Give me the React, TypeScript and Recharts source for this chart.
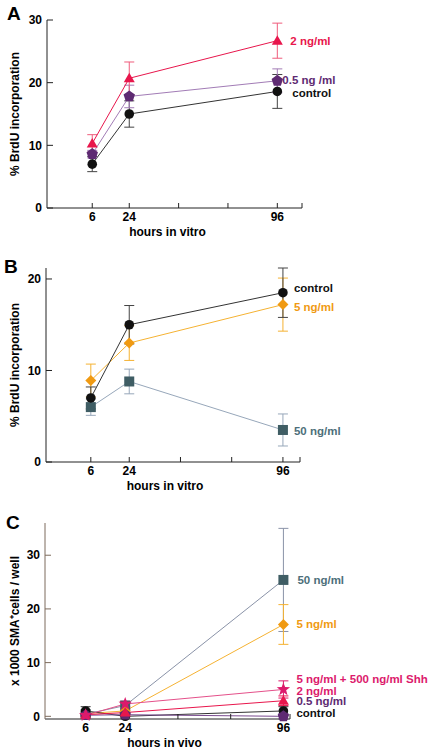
import React from 'react';
import { LineChart, Line, XAxis, YAxis, ErrorBar, LabelList, Label } from 'recharts';

const FONT = '"Liberation Sans", Arial, Helvetica, sans-serif';

// shared x ticks (hours); only some carry a label
const hourTicks = [6, 24, 48, 72, 96];
const hourTickLabels = [6, 24, 96];

// A: BrdU incorporation, hours in vitro
const hoursA = [6, 24, 96];
const controlA = [7.0, 15.0, 18.6];
const controlAErr = [1.2, 2.1, 2.7];
const halfNgA = [8.6, 17.8, 20.3];
const halfNgAErr = [0.6, 1.8, 1.9];
const twoNgA = [10.3, 20.7, 26.7];
const twoNgAErr = [1.4, 2.6, 2.8];

// B: BrdU incorporation, hours in vitro
const hoursB = [6, 24, 96];
const controlB = [7.0, 15.0, 18.5];
const controlBErr = [1.2, 2.1, 2.7];
const fiveNgB = [8.9, 13.0, 17.2];
const fiveNgBErr = [1.8, 1.9, 2.9];
const fiftyNgB = [6.0, 8.8, 3.5];
const fiftyNgBErr = [0.9, 1.35, 1.75];

// C: SMA+ cells per well, hours in vivo
const hoursC = [6, 24, 96];
const controlC = [1.0, 0.0, 1.0];
const controlCErr = [0.8, 0.3, 0.8];
const halfNgC = [0.2, 0.3, 0.0];
const halfNgCErr = [0.3, 0.3, 0.5];
const twoNgC = [0.3, 0.7, 2.9];
const twoNgCErr = [0.3, 0.4, 0.9];
const shhC = [0.2, 2.3, 5.0];
const shhCErr = [0.3, 0.5, 1.6];
const fiveNgC = [0.5, 1.0, 17.1];
const fiveNgCErr = [0.4, 0.5, 3.7];
const fiftyNgC = [0.4, 2.0, 25.4];
const fiftyNgCErr = [0.4, 0.6, 9.6];

const dataA = hoursA.map((h, i) => ({
    hours: h,
    control: controlA[i], controlErr: controlAErr[i],
    half: halfNgA[i], halfErr: halfNgAErr[i],
    two: twoNgA[i], twoErr: twoNgAErr[i],
}));

const dataB = hoursB.map((h, i) => ({
    hours: h,
    control: controlB[i], controlErr: controlBErr[i],
    five: fiveNgB[i], fiveErr: fiveNgBErr[i],
    fifty: fiftyNgB[i], fiftyErr: fiftyNgBErr[i],
}));

const dataC = hoursC.map((h, i) => ({
    hours: h,
    control: controlC[i], controlErr: controlCErr[i],
    half: halfNgC[i], halfErr: halfNgCErr[i],
    two: twoNgC[i], twoErr: twoNgCErr[i],
    shh: shhC[i], shhErr: shhCErr[i],
    five: fiveNgC[i], fiveErr: fiveNgCErr[i],
    fifty: fiftyNgC[i], fiftyErr: fiftyNgCErr[i],
}));

const RED = '#e8164c';
const PURPLE = '#5e2a72';
const PURPLE_LINE = '#a27cb6';
const BLACK = '#111111';
const ORANGE = '#f09a12';
const ORANGE_LINE = '#f5b232';
const SLATE = '#3f5d64';
const SLATE_LINE = '#97a7ba';
const MAGENTA = '#dc1a6c';

type Shape = 'circle' | 'triangle' | 'pentagon' | 'diamond' | 'square' | 'star';

const starPoints = (cx: number, cy: number, n: number, outer: number, inner: number) => {
    const pts: string[] = [];
    const step = Math.PI / n;
    for (let k = 0; k < 2 * n; k++) {
        const r = k % 2 === 1 ? inner : outer;
        const a = -Math.PI / 2 + k * step;
        pts.push(`${cx + r * Math.cos(a)},${cy + r * Math.sin(a)}`);
    }
    return pts.join(' ');
};

const regularPoints = (cx: number, cy: number, n: number, r: number) => {
    const pts: string[] = [];
    for (let k = 0; k < n; k++) {
        const a = -Math.PI / 2 + (k * 2 * Math.PI) / n;
        pts.push(`${cx + r * Math.cos(a)},${cy + r * Math.sin(a)}`);
    }
    return pts.join(' ');
};

const Marker = ({ cx, cy, shape, fill }: { cx?: number; cy?: number; shape: Shape; fill: string }) => {
    if (cx == null || cy == null) return null;
    switch (shape) {
        case 'circle':
            return <circle cx={cx} cy={cy} r={4.8} fill={fill} />;
        case 'triangle':
            return <polygon points={`${cx},${cy - 5.5} ${cx + 5.5},${cy + 4} ${cx - 5.5},${cy + 4}`} fill={fill} />;
        case 'pentagon':
            return <polygon points={regularPoints(cx, cy, 5, 6)} fill={fill} />;
        case 'diamond':
            return <polygon points={regularPoints(cx, cy, 4, 5.5)} fill={fill} />;
        case 'square':
            return <rect x={cx - 5} y={cy - 5} width={10} height={10} fill={fill} />;
        case 'star':
            return <polygon points={starPoints(cx, cy, 5, 7, 2.9)} fill={fill} />;
        default:
            return null;
    }
};

// one dose series: line, markers, error bars and the name at the 96 h point
const renderSeries = (
    key: string,
    name: string,
    shape: Shape,
    marker: string,
    line: string,
    err: string,
    labelDx: number,
    labelDy: number,
    labelColor: string = marker,
) => (
    <Line
        key={key}
        type="linear"
        dataKey={key}
        stroke={line}
        strokeWidth={1}
        isAnimationActive={false}
        activeDot={false}
        dot={(p: any) => <Marker key={`${key}-${p.index}`} cx={p.cx} cy={p.cy} shape={shape} fill={marker} />}
    >
        <ErrorBar dataKey={`${key}Err`} width={5} stroke={err} strokeWidth={1} direction="y" />
        <LabelList
            dataKey={key}
            content={(p: any) =>
                p.index === 2 ? (
                    <text
                        x={Number(p.x) + labelDx}
                        y={Number(p.y) + labelDy}
                        dominantBaseline="central"
                        fill={labelColor}
                        fontSize={11.5}
                        fontWeight="bold"
                        fontFamily={FONT}
                    >
                        {name}
                    </text>
                ) : null
            }
        />
    </Line>
);

const tickStyle = { fill: '#000', fontSize: 12, fontWeight: 'bold', fontFamily: FONT };
const titleStyle = { fill: '#000', fontSize: 12, fontWeight: 'bold', fontFamily: FONT };
const hourLabel = (v: number) => (hourTickLabels.includes(v) ? String(v) : '');

const letterStyle: React.CSSProperties = {
    position: 'absolute',
    fontFamily: FONT,
    fontWeight: 700,
    fontSize: 19,
    lineHeight: '19px',
    color: '#000',
};

const xAxisProps = (max: number) => ({
    dataKey: 'hours',
    type: 'number' as const,
    ticks: [...hourTicks, max],
    tickFormatter: hourLabel,
    interval: 0 as const,
    height: 32,
    tickSize: -5,
    tickMargin: 9,
    axisLine: { stroke: '#222' },
    tickLine: { stroke: '#222' },
    tick: tickStyle,
});

const App: React.FC = () => {
    return (
        <div style={{ position: 'relative', width: 432, height: 751, background: '#fff', overflow: 'hidden' }}>
            <style>{'body{margin:0}'}</style>

            <div style={{ position: 'absolute', left: 0, top: 0 }}>
                <LineChart width={432} height={240} data={dataA} margin={{ top: 20, right: 130, left: 0, bottom: 0 }}>
                    <XAxis {...xAxisProps(108)} domain={[-16, 108]}>
                        <Label value="hours in vitro" position="insideBottom" offset={4} style={{ ...titleStyle, transform: 'translateX(-7px)' }} />
                    </XAxis>
                    <YAxis
                        type="number"
                        domain={[0, 30]}
                        ticks={[0, 10, 20, 30]}
                        interval={0}
                        width={47}
                        tickSize={-6}
                        tickMargin={11}
                        axisLine={{ stroke: '#222' }}
                        tickLine={{ stroke: '#222' }}
                        tick={tickStyle}
                    >
                        <Label value="% BrdU incorporation" angle={-90} position="insideLeft" offset={15} style={{ ...titleStyle, textAnchor: 'middle' }} />
                    </YAxis>
                    {renderSeries('control', 'control', 'circle', BLACK, '#333', '#444', 15, 1.5)}
                    {renderSeries('half', '0.5 ng /ml', 'pentagon', PURPLE, PURPLE_LINE, PURPLE_LINE, 5, -0.5)}
                    {renderSeries('two', '2 ng/ml', 'triangle', RED, RED, '#ef5c7c', 13, 0)}
                </LineChart>
            </div>

            <div style={{ position: 'absolute', left: 0, top: 248 }}>
                <LineChart width={432} height={246} data={dataB} margin={{ top: 20, right: 132, left: 0, bottom: 0 }}>
                    <XAxis {...xAxisProps(104)} domain={[-15, 104]}>
                        <Label value="hours in vitro" position="insideBottom" offset={4} style={{ ...titleStyle, transform: 'translateX(-8px)' }} />
                    </XAxis>
                    <YAxis
                        type="number"
                        domain={[0, 20]}
                        ticks={[0, 10, 20]}
                        interval={0}
                        width={46}
                        tickSize={-6}
                        tickMargin={11}
                        axisLine={{ stroke: '#222' }}
                        tickLine={{ stroke: '#222' }}
                        tick={tickStyle}
                    >
                        <Label value="% BrdU incorporation" angle={-90} position="insideLeft" offset={15} style={{ ...titleStyle, textAnchor: 'middle' }} />
                    </YAxis>
                    {renderSeries('fifty', '50 ng/ml', 'square', SLATE, SLATE_LINE, SLATE_LINE, 11, 1, '#4d6f7a')}
                    {renderSeries('five', '5 ng/ml', 'diamond', ORANGE, ORANGE_LINE, ORANGE_LINE, 11, 2)}
                    {renderSeries('control', 'control', 'circle', BLACK, '#333', '#444', 11, -5)}
                </LineChart>
            </div>

            <div style={{ position: 'absolute', left: 0, top: 503 }}>
                <LineChart width={432} height={248} data={dataC} margin={{ top: 20, right: 142, left: 0, bottom: 0 }}>
                    <XAxis {...xAxisProps(99)} domain={[-12.5, 99]}>
                        <Label value="hours in vivo" position="insideBottom" offset={4} style={{ ...titleStyle, transform: 'translateX(-3px)' }} />
                    </XAxis>
                    <YAxis
                        type="number"
                        domain={[0, 36]}
                        ticks={[0, 10, 20, 30]}
                        interval={0}
                        width={45}
                        tickSize={-6}
                        tickMargin={11}
                        axisLine={{ stroke: '#7d6b5c' }}
                        tickLine={{ stroke: '#7d6b5c' }}
                        tick={tickStyle}
                    >
                        <Label
                            value="x 1000 SMA⁺cells / well"
                            angle={-90}
                            position="insideLeft"
                            offset={15}
                            style={{ ...titleStyle, textAnchor: 'middle' }}
                        />
                    </YAxis>
                    {renderSeries('fifty', '50 ng/ml', 'square', SLATE, '#8a93a8', '#8a93a8', 14, 0, '#4d6f7a')}
                    {renderSeries('five', '5 ng/ml', 'diamond', ORANGE, ORANGE_LINE, ORANGE_LINE, 13, 0)}
                    {renderSeries('control', 'control', 'circle', BLACK, '#333', '#444', 13, 2)}
                    {renderSeries('half', '0.5 ng/ml', 'pentagon', PURPLE, '#7a4a90', '#7a4a90', 13, -15)}
                    {renderSeries('two', '2 ng/ml', 'triangle', RED, RED, RED, 13, -10, MAGENTA)}
                    {renderSeries('shh', '5 ng/ml + 500 ng/ml Shh', 'star', MAGENTA, '#e4508a', MAGENTA, 13, -10.5)}
                </LineChart>
            </div>

            <div style={{ ...letterStyle, left: 7, top: 4 }}>A</div>
            <div style={{ ...letterStyle, left: 4, top: 257 }}>B</div>
            <div style={{ ...letterStyle, left: 6, top: 513 }}>C</div>
        </div>
    );
};

export default App;
